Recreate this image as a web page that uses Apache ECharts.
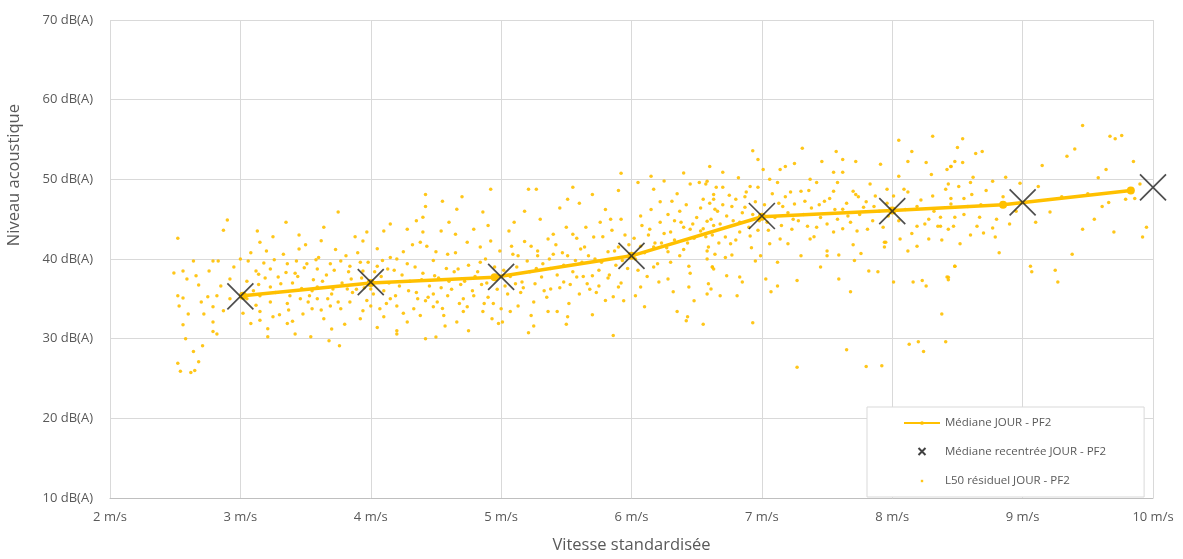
<!DOCTYPE html>
<html>
<head>
<meta charset="utf-8">
<script src="https://cdn.jsdelivr.net/npm/echarts@6/dist/echarts.min.js"></script>
<style>
html,body{margin:0;padding:0;background:#fff;}
#chart{width:1183px;height:559px;}
</style>
</head>
<body>
<div id="chart"></div>
<script>
// ---- data ----
const xTickLabelUnit = ' m/s';
const yTickLabelUnit = ' dB(A)';
const xAxisTitle = 'Vitesse standardisée';
const yAxisTitle = 'Niveau acoustique';
const seriesNames = ['Médiane JOUR - PF2', 'Médiane recentrée JOUR - PF2', 'L50 résiduel JOUR - PF2'];

const medianLine = [[3.02,35.4],[4.0,37.0],[4.95,37.7],[6.0,40.4],[7.0,45.3],[8.0,46.1],[8.85,46.8],[9.83,48.6]];
const medianCentered = [[3,35.3],[4,37.1],[5,37.75],[6,40.4],[7,45.4],[8,46.0],[9,47.1],[10,49.0]];

const l50Points = [
// 2.5 - 3 m/s
[2.52,42.6],[2.90,44.9],[2.87,43.6],[2.64,39.75],[2.79,39.75],[2.83,39.75],[2.49,38.25],[2.56,38.5],[2.76,38.5],[2.59,37.5],
[2.52,35.4],[2.56,35.1],[2.53,34.1],[2.68,36.75],[2.75,35.25],[2.82,35.4],[2.79,34.0],[2.70,34.6],[2.87,33.5],[2.72,33.1],
[2.60,33.1],[2.56,31.75],[2.79,32.1],[2.79,30.9],[2.82,30.6],[2.58,30.0],[2.71,29.1],[2.64,28.4],[2.68,27.1],[2.52,26.9],
[2.54,25.9],[2.62,25.75],[2.65,26.0],[2.92,35.0],[2.92,37.5],[2.95,39.0],[2.85,36.6],[2.66,37.9],
// 3 - 4 m/s
[3.13,43.5],[3.15,42.1],[3.35,44.6],[3.75,45.9],[3.64,44.0],[3.45,41.25],[3.06,39.75],[3.00,40.0],[3.14,38.1],[3.12,38.5],
[3.05,35.0],[3.15,33.4],[3.21,31.25],[3.21,30.25],[3.08,31.9],[3.25,32.75],[3.36,31.9],[3.42,30.6],[3.54,30.25],[3.68,29.75],
[3.76,29.1],[3.23,38.75],[3.29,37.75],[3.36,39.4],[3.43,39.75],[3.51,39.4],[3.59,38.75],[3.69,39.4],[3.77,39.75],[3.84,39.1],
[3.94,38.5],[3.92,39.6],[3.38,35.4],[3.46,35.0],[3.59,35.0],[3.69,34.1],[3.77,33.75],[3.84,34.6],[3.94,33.5],[3.92,32.5],
[3.48,33.1],[3.64,32.5],[3.36,34.4],[3.23,34.6],[3.55,33.75],[3.71,36.25],[3.82,36.25],[3.59,36.5],[3.23,36.5],[3.15,35.4],
[3.97,43.4],[3.94,42.25],
[3.05,37.2],[3.10,36.0],[3.12,34.2],[3.18,39.5],[3.20,41.0],[3.27,35.8],[3.30,33.0],[3.33,40.6],[3.40,37.0],[3.42,38.2],
[3.47,36.3],[3.50,41.8],[3.52,34.6],[3.56,37.4],[3.60,40.2],[3.62,33.6],[3.66,38.0],[3.70,35.6],[3.73,41.2],[3.78,37.0],
[3.80,31.8],[3.83,38.4],[3.86,35.8],[3.90,40.8],[3.95,36.4],[3.97,34.8],[3.25,42.8],[3.45,43.0],[3.62,42.3],[3.88,42.8],
[3.15,32.3],[3.40,32.2],[3.70,31.2],[3.55,36.0],[3.35,38.3],
[3.02,33.2],[3.08,40.8],[3.14,36.8],[3.19,37.6],[3.26,39.9],[3.31,36.9],[3.37,33.6],[3.44,37.8],[3.49,38.9],[3.53,35.4],
[3.58,39.9],[3.63,37.2],[3.67,35.0],[3.72,38.6],[3.75,34.6],[3.81,40.4],[3.85,37.5],[3.89,36.2],[3.93,37.6],[3.98,39.6],
// 4 - 5 m/s
[4.00,36.25],[4.00,34.1],[4.07,33.75],[4.10,32.75],[4.05,39.1],[4.13,38.75],[4.20,40.0],[4.25,40.9],[4.28,43.75],[4.10,43.5],
[4.38,42.1],[4.40,43.4],[4.40,45.25],[4.36,35.0],[4.33,33.75],[4.20,34.1],[4.15,35.0],[4.28,32.1],[4.20,31.0],[4.42,30.0],
[4.38,32.9],[4.42,48.1],[4.55,47.25],[4.92,48.75],[4.66,46.25],[4.86,45.9],[4.93,32.5],[4.86,33.4],[4.71,33.4],[4.66,32.1],
[4.56,32.9],[4.48,34.0],[4.42,34.75],[4.57,31.6],[4.51,34.6],[4.48,35.6],[4.59,35.4],[4.71,35.0],[4.79,35.4],[4.87,34.4],
[4.67,38.75],[4.59,40.6],[4.50,40.9],[4.43,41.6],[4.74,42.1],[4.84,41.5],[4.92,42.25],[4.79,43.75],[4.65,43.1],[4.54,43.5],
[4.98,31.9],
[4.02,35.6],[4.05,41.3],[4.08,37.8],[4.10,36.0],[4.12,34.4],[4.15,40.2],[4.18,38.6],[4.22,36.6],[4.25,33.2],[4.28,39.4],
[4.30,37.2],[4.32,41.8],[4.35,35.8],[4.40,38.2],[4.45,36.6],[4.48,39.8],[4.52,37.6],[4.55,33.8],[4.58,38.8],[4.62,36.2],
[4.65,40.8],[4.68,34.4],[4.72,37.2],[4.75,39.2],[4.78,36.0],[4.82,38.4],[4.85,36.8],[4.88,40.0],[4.90,35.2],[4.95,39.0],
[4.97,36.2],[4.15,44.4],[4.35,44.8],[4.60,44.6],[4.90,44.2],[4.20,30.6],[4.50,30.2],[4.75,31.0],[4.05,31.4],[4.42,46.6],
[4.70,47.8],
[4.03,38.4],[4.09,39.8],[4.14,37.0],[4.19,35.4],[4.24,38.0],[4.29,36.0],[4.34,39.0],[4.39,37.4],[4.44,35.2],[4.49,37.9],
[4.54,36.4],[4.60,37.2],[4.64,38.4],[4.69,36.8],[4.74,34.0],[4.80,37.8],[4.84,39.6],[4.89,37.0],[4.94,34.4],[4.99,41.0],
// 5 - 6 m/s
[5.92,50.75],[5.21,48.75],[5.27,48.75],[5.51,47.5],[5.70,48.1],[5.06,43.5],[5.18,46.0],[5.36,42.5],[5.40,43.1],[5.50,44.0],
[5.55,43.1],[5.64,41.5],[5.71,42.75],[5.76,44.6],[5.84,45.0],[5.92,45.0],[5.94,34.75],[5.86,35.25],[5.90,36.5],[5.86,30.4],
[5.75,36.6],[5.66,36.9],[5.70,37.9],[5.58,37.75],[5.48,37.1],[5.38,36.25],[5.31,37.75],[5.43,33.4],[5.36,33.4],[5.51,32.75],
[5.23,32.9],[5.13,34.1],[5.21,30.75],[5.07,33.4],[5.00,33.75],[5.01,32.1],[5.11,36.9],[5.16,37.1],[5.26,36.9],[5.09,40.6],
[5.20,39.75],[5.28,40.4],[5.40,40.6],[5.51,40.4],[5.61,41.25],[5.82,40.9],[5.90,41.5],
[5.02,38.6],[5.05,35.6],[5.08,41.6],[5.12,39.0],[5.15,35.8],[5.18,42.2],[5.22,38.4],[5.25,34.6],[5.28,41.0],[5.32,39.4],
[5.35,35.2],[5.38,38.8],[5.42,41.8],[5.45,36.4],[5.48,39.2],[5.52,34.4],[5.55,38.4],[5.58,42.6],[5.60,35.6],[5.62,39.6],
[5.65,44.0],[5.68,36.2],[5.72,40.0],[5.75,38.6],[5.78,42.8],[5.80,34.8],[5.82,37.6],[5.85,43.6],[5.88,39.2],[5.92,37.0],
[5.95,43.0],[5.97,38.8],[5.10,44.6],[5.30,45.0],[5.45,46.4],[5.60,47.0],[5.80,46.2],[5.90,48.6],[5.55,49.0],[5.25,31.6],
[5.50,31.8],[5.70,33.0],
[5.03,36.6],[5.07,37.8],[5.13,40.4],[5.17,36.4],[5.23,41.6],[5.27,38.8],[5.33,36.0],[5.37,40.0],[5.43,38.0],[5.47,40.8],
[5.53,36.8],[5.57,39.8],[5.63,37.8],[5.67,40.4],[5.73,35.8],[5.77,39.6],[5.83,38.0],[5.87,41.0],[5.93,39.8],[5.98,41.8],
// 6 - 7 m/s
[6.17,48.75],[6.31,47.25],[6.45,49.4],[6.57,49.4],[6.63,48.1],[6.07,45.4],[6.14,43.75],[6.22,44.6],[6.30,43.4],[6.40,44.0],
[6.45,43.75],[6.53,43.5],[6.61,45.0],[6.66,46.0],[6.17,41.5],[6.28,40.9],[6.37,40.4],[6.58,40.0],[6.62,39.0],[6.44,39.1],
[6.28,37.5],[6.21,37.1],[6.32,35.9],[6.44,36.5],[6.48,34.75],[6.61,36.25],[6.43,32.75],[6.42,32.25],[6.07,36.5],[6.03,35.4],
[6.70,50.9],[6.58,49.75],[6.70,49.0],[6.55,47.5],[6.63,47.5],[6.64,46.25],[6.80,47.5],[6.91,49.1],[6.97,49.0],[6.87,46.5],
[6.58,44.75],[6.72,42.75],[6.83,43.4],[6.91,42.9],[6.76,41.9],[6.59,41.5],[6.64,40.6],[6.77,40.5],[6.99,40.4],[6.62,39.0],
[6.63,38.75],[6.73,37.9],[6.83,37.75],[6.85,37.1],[6.59,36.9],[6.58,35.6],[6.68,35.4],[6.81,35.4],[6.95,39.75],[6.93,32.0],
[6.93,53.6],[6.97,52.5],
[6.02,42.6],[6.05,38.6],[6.08,44.2],[6.10,40.8],[6.12,37.8],[6.15,46.2],[6.18,42.0],[6.20,39.4],[6.22,47.2],[6.25,43.2],
[6.28,45.6],[6.30,39.6],[6.33,42.4],[6.35,48.2],[6.38,44.6],[6.40,41.2],[6.42,46.8],[6.45,38.2],[6.48,42.6],[6.50,45.2],
[6.52,49.6],[6.55,43.8],[6.58,41.0],[6.60,47.0],[6.62,43.0],[6.65,49.0],[6.68,44.4],[6.70,46.8],[6.72,40.2],[6.75,48.0],
[6.78,44.8],[6.80,42.4],[6.82,50.2],[6.85,45.8],[6.88,48.4],[6.90,44.0],[6.92,41.4],[6.95,47.2],[6.97,43.6],[6.05,49.6],
[6.15,50.4],[6.25,49.8],[6.40,50.8],[6.60,51.6],[6.10,34.0],[6.35,33.4],[6.55,31.8],
[6.03,40.0],[6.07,41.6],[6.13,43.0],[6.17,39.0],[6.23,42.0],[6.27,41.4],[6.33,44.8],[6.37,46.0],[6.43,42.0],[6.47,44.4],
[6.53,46.4],[6.57,42.8],[6.63,44.2],[6.67,42.0],[6.73,45.4],[6.77,46.6],[6.83,44.6],[6.87,47.8],[6.93,45.6],[6.98,44.8],
// 7 - 8 m/s
[7.27,26.4],[7.65,28.6],[7.80,26.5],[7.92,26.6],[7.68,35.9],[7.59,37.5],[7.27,37.3],[7.12,36.6],[7.07,35.9],[7.03,37.5],
[7.82,38.5],[7.89,38.4],[7.71,39.8],[7.50,40.4],[7.76,40.7],[7.59,40.5],[7.94,42.1],[7.94,41.5],
[7.01,51.25],[7.31,53.9],[7.57,53.5],[7.46,52.25],[7.72,52.25],[7.62,52.5],[7.91,51.9],[7.18,51.6],[7.14,51.25],[7.25,52.0],
[7.55,50.9],[7.62,50.9],
[7.06,50.0],[7.12,49.6],[7.22,48.4],[7.37,50.0],[7.30,48.5],[7.16,46.6],[7.25,46.9],[7.33,47.25],[7.48,47.25],[7.55,48.5],
[7.70,48.5],[7.72,48.1],[7.62,46.25],[7.78,46.5],[7.87,47.9],[7.42,49.6],[7.58,49.6],[7.83,49.4],[7.96,48.75],[7.23,43.75],
[7.35,44.1],[7.42,44.0],[7.37,42.5],[7.20,41.9],[7.14,42.5],[7.06,41.9],[7.55,43.4],[7.73,43.5],[7.81,43.75],[7.95,42.1],
[7.50,41.0],
[7.02,46.8],[7.05,43.6],[7.08,48.2],[7.10,45.2],[7.15,44.2],[7.18,47.8],[7.20,45.8],[7.28,44.8],[7.32,45.6],[7.38,46.4],
[7.40,42.8],[7.45,45.2],[7.50,44.4],[7.52,47.6],[7.58,45.0],[7.62,43.8],[7.65,47.0],[7.68,44.6],[7.75,45.6],[7.80,47.2],
[7.85,44.8],[7.90,46.0],[7.93,44.0],[7.97,45.4],[7.12,39.6],[7.30,40.4],[7.45,39.0],[7.70,41.8],
[7.04,44.6],[7.13,47.0],[7.24,45.0],[7.36,48.6],[7.44,46.8],[7.56,46.2],[7.66,45.4],[7.74,47.8],[7.86,46.6],[7.96,47.0],
// 8 - 9 m/s
[8.13,29.3],[8.20,29.6],[8.24,28.4],[8.41,29.6],[8.38,33.1],[8.01,37.1],[8.16,37.1],[8.23,37.3],[8.26,36.6],[8.43,37.7],
[8.48,39.1],[8.12,41.0],[8.19,41.6],[8.28,42.5],
[8.05,54.9],[8.31,55.4],[8.15,53.5],[8.26,52.1],[8.12,52.25],[8.45,51.6],[8.48,52.25],
[8.09,48.75],[8.12,48.4],[8.01,47.9],[8.19,44.1],[8.37,45.25],[8.43,43.75],[8.35,44.1],[8.28,45.0],[8.19,46.6],[8.31,47.9],
[8.41,48.75],[8.06,42.5],
[8.54,55.1],[8.50,54.0],[8.64,53.25],[8.69,53.5],[8.42,51.25],[8.45,51.6],[8.54,52.1],[8.62,50.25],[8.77,49.75],[8.87,50.25],
[8.98,49.5],[8.43,49.4],[8.51,49.1],[8.61,48.1],[8.55,47.6],[8.45,46.9],[8.58,46.6],[8.48,45.25],[8.47,44.1],[8.65,44.1],
[8.70,43.25],[8.77,43.9],[8.79,42.75],[8.52,41.9],[8.67,45.25],[8.37,44.1],[8.48,39.1],[8.42,37.75],[8.43,37.4],
[8.05,44.8],[8.10,46.2],[8.15,43.2],[8.22,47.4],[8.25,44.4],[8.32,46.0],[8.38,42.4],[8.45,47.6],[8.55,45.6],[8.60,43.0],
[8.68,46.8],[8.72,48.6],[8.80,45.0],[8.85,47.8],[8.90,44.4],[8.95,46.0],[8.05,50.4],[8.30,50.6],[8.60,49.6],[8.82,40.8],
// 9 - 10 m/s
[9.06,39.1],[9.07,38.4],[9.25,38.6],[9.27,37.1],[9.46,43.75],[9.21,45.9],[9.12,49.1],[9.61,46.6],[9.66,47.1],[9.79,47.5],
[9.92,42.75],[9.86,47.6],[9.46,56.75],[9.67,55.4],[9.71,55.1],[9.76,55.5],[9.34,52.9],[9.15,51.75],[9.64,51.25],[9.85,52.25],
[9.10,44.6],[9.30,47.8],[9.38,40.6],[9.50,48.2],[9.55,45.0],[9.70,43.4],[9.90,49.4],[9.95,44.0],[9.40,53.8],[9.58,50.2]
];

// ---- chart ----
const chart = echarts.init(document.getElementById('chart'), null, {renderer: 'canvas'});
const textColor = '#595959';
const font = 'Open Sans, Noto Sans, sans-serif';
const crossPath = 'path://M0,0L10,10M10,0L0,10';
// padded symbols (extra moveTo points enlarge the bounding box so the visible mark is small)
const crossLegendIcon = 'path://M-3,-3M13,13M1,1L9,9M9,1L1,9';
const dotLegendIcon = 'path://M-7,-7M7,7M-1.2,-1.2L1.2,-1.2L1.2,1.2L-1.2,1.2Z';
const paddedCircle = 'path://M-9,-9M9,9M-3,0A3,3,0,1,0,3,0A3,3,0,1,0,-3,0Z';

const option = {
  backgroundColor: '#ffffff',
  animation: false,
  textStyle: {fontFamily: font, color: textColor},
  grid: {left: 110, right: 30, top: 20, bottom: 59, containLabel: false},
  xAxis: {
    type: 'value', min: 2, max: 10, interval: 1,
    name: xAxisTitle, nameLocation: 'middle', nameGap: 39,
    nameTextStyle: {fontSize: 16.5, color: textColor, fontFamily: font},
    axisLine: {show: true, lineStyle: {color: '#bfbfbf', width: 1}},
    axisTick: {show: false},
    axisLabel: {formatter: v => v + xTickLabelUnit, fontSize: 13, color: textColor, margin: 13, fontFamily: font},
    splitLine: {show: true, lineStyle: {color: '#d9d9d9', width: 1}}
  },
  yAxis: {
    type: 'value', min: 10, max: 70, interval: 10,
    axisLine: {show: false},
    axisTick: {show: false},
    axisLabel: {formatter: v => v + yTickLabelUnit, fontSize: 13, color: textColor, margin: 17, fontFamily: font},
    splitLine: {show: true, lineStyle: {color: '#d9d9d9', width: 1}}
  },
  graphic: [{
    type: 'text', left: 6, top: 104,
    rotation: Math.PI / 2,
    style: {text: yAxisTitle, fontSize: 16.5, fill: textColor, fontFamily: font}
  }],
  legend: {
    orient: 'vertical', left: 867, top: 407,
    backgroundColor: '#ffffff', borderColor: '#d9d9d9', borderWidth: 1,
    padding: [10, 38, 9, 36],
    itemGap: 13, itemWidth: 36, itemHeight: 14,
    textStyle: {fontSize: 11.5, color: textColor, fontFamily: font},
    data: [
      {name: seriesNames[0]},
      {name: seriesNames[1], icon: crossLegendIcon, itemStyle: {color: 'none', borderColor: '#111', borderWidth: 2}},
      {name: seriesNames[2], icon: dotLegendIcon, itemStyle: {color: '#FFC000'}}
    ]
  },
  series: [
    {
      name: seriesNames[2], type: 'scatter', data: l50Points,
      symbol: 'circle', symbolSize: 3.5, clip: false, z: 1,
      itemStyle: {color: '#FFC000', opacity: 0.9}
    },
    {
      name: seriesNames[0], type: 'line', data: medianLine,
      symbol: paddedCircle, symbolSize: 24, showSymbol: true, z: 2,
      lineStyle: {color: '#FFC000', width: 3.5},
      itemStyle: {color: '#FFC000'}
    },
    {
      name: seriesNames[1], type: 'scatter', data: medianCentered,
      symbol: crossPath, symbolSize: 26, clip: false, z: 3,
      itemStyle: {color: 'none', borderColor: '#222222', borderWidth: 1.7}
    }
  ]
};
chart.setOption(option);
</script>
</body>
</html>
